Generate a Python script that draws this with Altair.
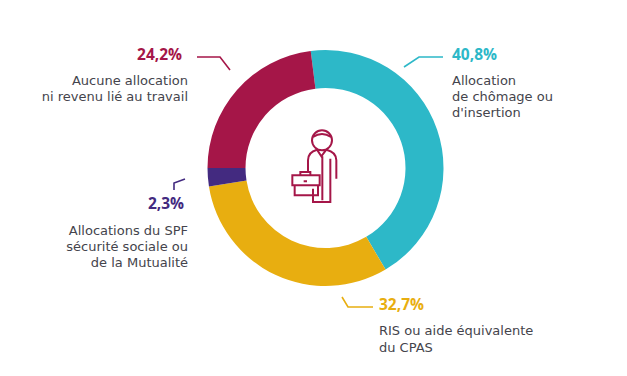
import math
import altair as alt
import pandas as pd

categories = ["Allocation de chômage ou d'insertion", "RIS ou aide équivalente du CPAS",
              "Allocations du SPF sécurité sociale ou de la Mutualité", "Aucune allocation ni revenu lié au travail"]
# Shares as drawn in the picture (its ring is not exactly proportional to its printed labels)
drawn_shares = [43.5, 31.0, 2.5, 23.0]
colors = ["#2DB8C8", "#E8AE10", "#432A80", "#A51648"]

pct_labels = ["40,8%", "32,7%", "2,3%", "24,2%"]
pct_x = [452, 379, 184, 182]
pct_y = [55, 305, 204, 55]
pct_align = ["left", "left", "right", "right"]

desc_rows = [
    ("Allocation", 452, 81, "left"), ("de chômage ou", 452, 97, "left"), ("d'insertion", 452, 113, "left"),
    ("RIS ou aide équivalente", 379, 331, "left"), ("du CPAS", 379, 348, "left"),
    ("Allocations du SPF", 188, 231, "right"), ("sécurité sociale ou", 188, 247, "right"), ("de la Mutualité", 188, 263, "right"),
    ("Aucune allocation", 188, 81, "right"), ("ni revenu lié au travail", 188, 97, "right"),
]

leaders = [
    [(404, 67), (419, 57), (443, 57)],
    [(342, 297), (348, 307), (373, 307)],
    [(185, 179), (174, 183), (174, 190)],
    [(197, 57), (220, 57), (230, 70)],
]

OFF = 8
CX, CY = 325.5 - OFF, 168 - OFF
START = math.radians(-7.2)

icon_path = (
    "M-30,-80 a27,27 0 1,0 60,0 a27,27 0 1,0 -60,0 "
    "M-27,-90 Q0,-108 27,-90 "
    "M-42,15 L-42,-20 Q-42,-45 -15,-52 L-2,-32 L13,-52 Q43,-45 43,-20 L43,35 "
    "M1,-32 L1,100 "
    "M25,-25 L25,105 L-27,105 L-27,65 "
    "M-89,25 L-7,25 L-7,55 L-89,55 Z "
    "M-82,55 L-82,85 L-12,85 L-12,55 "
    "M-65,25 L-65,15 L-35,15 L-35,25 "
    "M-55,43 L-45,43"
)

arc_df = pd.DataFrame({"cat": categories, "val": drawn_shares, "ord": range(4)})
donut = alt.Chart(arc_df).mark_arc(radius=118, radius2=80).encode(
    x=alt.value(CX), y=alt.value(CY),
    theta=alt.Theta("val:Q", stack=True, scale=alt.Scale(domain=[0, 100], range=[START, START + 2 * math.pi])),
    order=alt.Order("ord:Q"),
    color=alt.Color("cat:N", scale=alt.Scale(domain=categories, range=colors), legend=None),
)

X = lambda: alt.X("x:Q", scale=None, axis=None)
Y = lambda: alt.Y("y:Q", scale=None, axis=None)

leader_df = pd.DataFrame([
    {"x": x - OFF, "y": y - OFF, "k": i, "p": j, "c": categories[i]}
    for i, pts in enumerate(leaders) for j, (x, y) in enumerate(pts)
])
leader_layer = alt.Chart(leader_df).mark_line(strokeWidth=1.6).encode(
    x=X(), y=Y(), detail="k:N", order="p:Q",
    color=alt.Color("c:N", scale=alt.Scale(domain=categories, range=colors), legend=None),
)

layers = [donut, leader_layer]
for i in range(4):
    layers.append(
        alt.Chart(pd.DataFrame({"t": [pct_labels[i]], "x": [pct_x[i] - OFF], "y": [pct_y[i] - OFF]}))
        .mark_text(font="Open Sans", fontSize=15.5, fontWeight="bold", align=pct_align[i], baseline="middle", color=colors[i])
        .encode(x=X(), y=Y(), text="t:N")
    )
for align in ["left", "right"]:
    rows = [r for r in desc_rows if r[3] == align]
    layers.append(
        alt.Chart(pd.DataFrame({"t": [r[0] for r in rows], "x": [r[1] - OFF for r in rows], "y": [r[2] - OFF for r in rows]}))
        .mark_text(font="DejaVu Sans", fontSize=13, align=align, baseline="middle", color="#44444C")
        .encode(x=X(), y=Y(), text="t:N")
    )

icon = alt.Chart(pd.DataFrame({"x": [322 - OFF], "y": [167 - OFF]})).mark_point(
    shape=icon_path, size=4 / 9, filled=False, stroke="#A51648", strokeWidth=2, opacity=1
).encode(x=X(), y=Y())
layers.append(icon)

chart = alt.layer(*layers).properties(
    width=611, height=360, padding=0, autosize=alt.AutoSizeParams(type="none"), background="white"
).configure_view(stroke=None)

chart.save("out.html", embed_options={"renderer": "svg", "actions": False})
